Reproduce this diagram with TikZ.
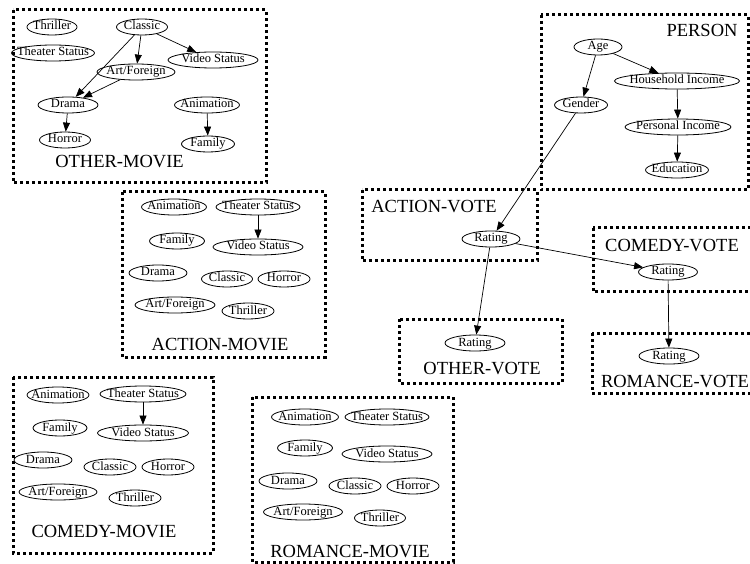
\documentclass[tikz,border=0pt]{standalone}
\usepackage{fontspec}
\setmainfont{Liberation Serif}
\usetikzlibrary{shapes.geometric,arrows.meta}
\newcommand\zb[1]{\makebox[0pt]{#1}}
\tikzset{
  vn/.style={ellipse, draw, line width=0.8pt, inner sep=0pt, minimum height=16pt,
    minimum width=#1, text height=8pt, text depth=2pt,
    font=\fontsize{12.5}{14}\selectfont},
  grp/.style={line width=3pt, dash pattern=on 3pt off 3pt},
  glabel/.style={anchor=base, inner sep=0pt, font=\fontsize{18.5}{20}\selectfont},
  edge/.style={line width=0.7pt, -{Triangle[length=9pt,width=7pt]}}
}
\begin{document}
\begin{tikzpicture}[x=1pt,y=-1pt]
\useasboundingbox (0,0) rectangle (750,564);
\clip (0,0) rectangle (750,564);
\fill[white] (0,0) rectangle (750,564);

% group boxes
\draw[grp] (13,10) rectangle (266,183);
\draw[grp] (122,192) rectangle (325,357);
\draw[grp] (541,15) rectangle (748,190);
\draw[grp] (362,190) rectangle (537,261);
\draw[grp] (593,228) rectangle (770,292);
\draw[grp] (399,319) rectangle (562,383);
\draw[grp] (592,333) rectangle (770,393);
\draw[grp] (13,377) rectangle (213,553);
\draw[grp] (252,397) rectangle (453,562);

% group labels
\node[glabel] (lom) at (119.5,168) {OTHER-MOVIE};
\node[glabel] (lam) at (220,350) {ACTION-MOVIE};
\node[glabel] (lp) at (702,37) {PERSON};
\node[glabel] (lav) at (434,213) {ACTION-VOTE};
\node[glabel] (lcv) at (672,252) {COMEDY-VOTE};
\node[glabel] (lov) at (482,374) {OTHER-VOTE};
\node[glabel] (lrv) at (675,387) {ROMANCE-VOTE};
\node[glabel] (lcm) at (104,537) {COMEDY-MOVIE};
\node[glabel] (lrm) at (350,557) {ROMANCE-MOVIE};

% OTHER-MOVIE
\node[vn=50] (omthr) at (52,27) {\zb{Thriller}};
\node[vn=83] (omts) at (53,53) {\zb{Theater Status}};
\node[vn=51] (omcl) at (142,27) {\zb{Classic}};
\node[vn=90] (omvs) at (213,60) {\zb{Video Status}};
\node[vn=78] (omaf) at (136,72) {\zb{Art/Foreign}};
\node[vn=60] (omdr) at (68,105) {\zb{Drama}};
\node[vn=65] (oman) at (207,105) {\zb{Animation}};
\node[vn=51] (omho) at (65,140) {\zb{Horror}};
\node[vn=53] (omfa) at (208,144) {\zb{Family}};
\draw[edge] (omcl) -- (omdr);
\draw[edge] (omcl) -- (omaf);
\draw[edge] (omcl) -- (omvs);
\draw[edge] (omaf) -- (omdr);
\draw[edge] (omdr) -- (omho);
\draw[edge] (oman) -- (omfa);

% ACTION-MOVIE
\node[vn=65] (aman) at (174,207) {\zb{Animation}};
\node[vn=84] (amts) at (258,207) {\zb{Theater Status}};
\node[vn=55] (amfa) at (177,241) {\zb{Family}};
\node[vn=90] (amvs) at (258,247) {\zb{Video Status}};
\node[vn=58] (amdr) at (158,273) {\zb{Drama}};
\node[vn=51] (amcl) at (227,279) {\zb{Classic}};
\node[vn=52] (amho) at (284,279) {\zb{Horror}};
\node[vn=80] (amaf) at (175,305) {\zb{Art/Foreign}};
\node[vn=52] (amthr) at (248,311) {\zb{Thriller}};
\draw[edge] (amts) -- (amvs);

% COMEDY-MOVIE
\node[vn=62] (cman) at (58,395) {\zb{Animation}};
\node[vn=86] (cmts) at (143,394) {\zb{Theater Status}};
\node[vn=54] (cmfa) at (60,428) {\zb{Family}};
\node[vn=91] (cmvs) at (143,433) {\zb{Video Status}};
\node[vn=58] (cmdr) at (43,460) {\zb{Drama}};
\node[vn=52] (cmcl) at (110,467) {\zb{Classic}};
\node[vn=52] (cmho) at (168,467) {\zb{Horror}};
\node[vn=78] (cmaf) at (58,492) {\zb{Art/Foreign}};
\node[vn=52] (cmthr) at (135,498) {\zb{Thriller}};
\draw[edge] (cmts) -- (cmvs);

% ROMANCE-MOVIE
\node[vn=67] (rman) at (305,417) {\zb{Animation}};
\node[vn=84] (rmts) at (387,417) {\zb{Theater Status}};
\node[vn=55] (rmfa) at (305,448) {\zb{Family}};
\node[vn=90] (rmvs) at (387,454) {\zb{Video Status}};
\node[vn=58] (rmdr) at (288,481) {\zb{Drama}};
\node[vn=52] (rmcl) at (355,486) {\zb{Classic}};
\node[vn=52] (rmho) at (413,486) {\zb{Horror}};
\node[vn=79] (rmaf) at (303,512) {\zb{Art/Foreign}};
\node[vn=51] (rmthr) at (380,518) {\zb{Thriller}};

% PERSON
\node[vn=48] (age) at (598,47) {\zb{Age}};
\node[vn=125] (hh) at (677,81) {\zb{Household Income}};
\node[vn=53] (gen) at (581,105) {\zb{Gender}};
\node[vn=106] (pi) at (678,127) {\zb{Personal Income}};
\node[vn=63] (edu) at (677,170) {\zb{Education}};
\draw[edge] (age) -- (gen);
\draw[edge] (age) -- (hh);
\draw[edge] (hh) -- (pi);
\draw[edge] (pi) -- (edu);

% votes
\node[vn=58] (av) at (491,239) {\zb{Rating}};
\node[vn=59] (cv) at (668,272) {\zb{Rating}};
\node[vn=60] (ov) at (475,343) {\zb{Rating}};
\node[vn=60] (rv) at (669,356) {\zb{Rating}};
\draw[edge] (gen) -- (av);
\draw[edge] (av) -- (ov);
\draw[edge] (av) -- (cv);
\draw[edge] (cv) -- (rv);
\end{tikzpicture}
\end{document}
